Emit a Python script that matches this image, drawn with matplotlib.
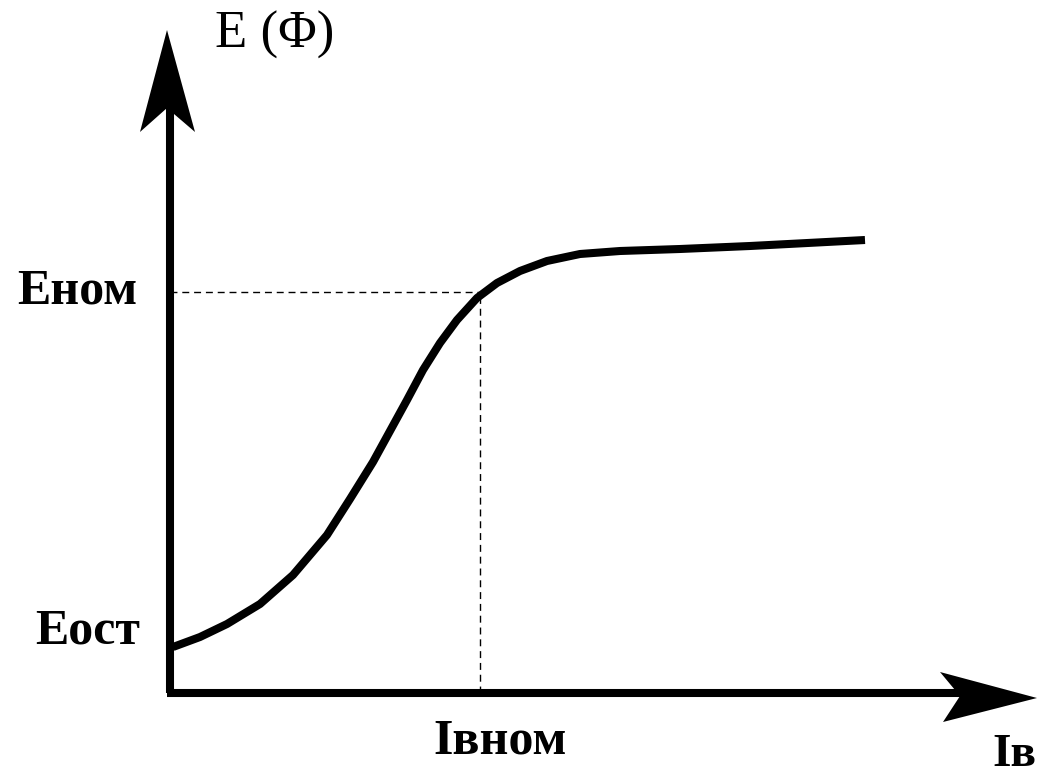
import matplotlib
matplotlib.use("Agg")
import matplotlib.pyplot as plt
from matplotlib.patches import Polygon

# Curve data (excitation current vs EMF), in arbitrary units
i_exc = [3, 30, 57, 90, 123, 157, 180, 203, 220, 237, 253, 270, 287, 307,
         327, 350, 377, 410, 450, 510, 580, 695]
emf = [46, 56, 69, 89, 118, 158, 194, 231, 262, 293, 323, 350, 373, 395,
       410, 422, 432, 439, 442, 444, 447, 453]

i_nom = 310
e_nom = 401

x_max = 879
y_max = 693

label_title = "E (Φ)"
label_enom = "Eном"
label_eost = "Eост"
label_inom = "Iвном"
label_iv = "Iв"

fig = plt.figure(figsize=(10.49, 7.75), dpi=100)
ax = fig.add_axes([0, 0, 1, 1])
ax.set_xlim(-170, x_max)
ax.set_ylim(-82, y_max)
ax.axis("off")

lw = 5.8
# axes lines
ax.plot([0, 0], [0, 600], color="black", lw=lw, solid_capstyle="butt")
ax.plot([-3, 790], [0, 0], color="black", lw=lw, solid_capstyle="butt")

# arrowheads
ax.add_patch(Polygon([(-3, 663), (-30, 561), (-3, 585), (25, 561)],
                     closed=True, color="black", lw=0))
ax.add_patch(Polygon([(867, -5), (770, 21), (790, -3), (773, -29)],
                     closed=True, color="black", lw=0))

# dashed guides
ax.plot([0, i_nom], [e_nom, e_nom], color="black", lw=1.0, ls=(0, (5, 3.5)))
ax.plot([i_nom, i_nom], [0, e_nom], color="black", lw=1.0, ls=(0, (5, 3.5)))

# curve
ax.plot(i_exc, emf, color="black", lw=lw, solid_joinstyle="round",
        solid_capstyle="butt")

fs = 36
ax.text(215 - 170, 693 - 48, label_title, family="Liberation Serif",
        fontsize=38, ha="left", va="baseline")
ax.text(17 - 170, 693 - 303, label_enom, family="Liberation Serif",
        fontweight="bold", fontsize=fs, ha="left", va="baseline")
ax.text(35 - 170, 693 - 643, label_eost, family="Liberation Serif",
        fontweight="bold", fontsize=fs, ha="left", va="baseline")
ax.text(433 - 170, 693 - 753, label_inom, family="Liberation Serif",
        fontweight="bold", fontsize=fs, ha="left", va="baseline")
ax.text(992 - 170, 693 - 766, label_iv, family="Liberation Serif",
        fontweight="bold", fontsize=34, ha="left", va="baseline")

fig.savefig("out.png", dpi=100)
